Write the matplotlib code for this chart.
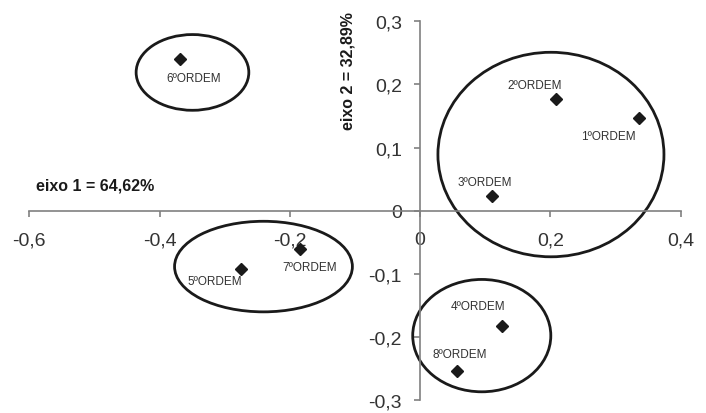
import matplotlib
matplotlib.use('Agg')
import matplotlib.pyplot as plt
from matplotlib.patches import Ellipse

plt.rcParams['font.family'] = ['Liberation Sans', 'DejaVu Sans']

# points (eixo 1, eixo 2)
labels = ['1ºORDEM', '2ºORDEM', '3ºORDEM', '4ºORDEM',
          '5ºORDEM', '6ºORDEM', '7ºORDEM', '8ºORDEM']
eixo1 = [0.336, 0.209, 0.110, 0.125, -0.275, -0.368, -0.185, 0.056]
eixo2 = [0.147, 0.177, 0.024, -0.182, -0.093, 0.240, -0.060, -0.254]

xticks = [-0.6, -0.4, -0.2, 0, 0.2, 0.4]
yticks = [-0.3, -0.2, -0.1, 0, 0.1, 0.2, 0.3]

# label offsets in pixels (dx, dy)
offsets = [(-31, -18), (-22, 14), (-7, 14), (-24, 20),
           (-26, -12), (13, -19), (10, -18), (3, 17)]

# groups drawn as ellipses: center x, center y, width, height
groups = [(-0.3495, 0.219, 0.173, 0.120),
          (0.2008, 0.0889, 0.347, 0.324),
          (-0.2405, -0.0886, 0.273, 0.1435),
          (0.0946, -0.198, 0.212, 0.178)]

fig = plt.figure(figsize=(7.06, 4.14), dpi=100)
ax = fig.add_axes([29.3 / 706, 13 / 414, 651.4 / 706, 378.7 / 414])
ax.set_xlim(-0.6, 0.4)
ax.set_ylim(-0.3, 0.3)

axcol = '#808080'
ax.spines['left'].set_position(('data', 0))
ax.spines['bottom'].set_position(('data', 0))
ax.spines['right'].set_visible(False)
ax.spines['top'].set_visible(False)
for s in ['left', 'bottom']:
    ax.spines[s].set_color(axcol)
    ax.spines[s].set_linewidth(1.2)

ax.set_xticks(xticks)
ax.set_yticks(yticks)
fmt = lambda v: ('%g' % v).replace('.', ',')
ax.set_xticklabels([fmt(v) for v in xticks])
ax.set_yticklabels([fmt(v) for v in yticks])
ax.tick_params(axis='x', direction='out', length=4, width=1.2, color=axcol,
               labelsize=14, labelcolor='#333333', pad=11)
ax.tick_params(axis='y', direction='out', length=4, width=1.2, color=axcol,
               labelsize=14, labelcolor='#333333', pad=9)

for cx, cy, w, h in groups:
    ax.add_patch(Ellipse((cx, cy), w, h, fill=False, edgecolor='#1a1a1a',
                         linewidth=2, clip_on=False, zorder=2))

ax.plot(eixo1, eixo2, 'D', color='#1a1a1a', markersize=6.5, linestyle='none',
        zorder=3, clip_on=False)

for lab, x, y, (dx, dy) in zip(labels, eixo1, eixo2, offsets):
    ax.annotate(lab, (x, y), xytext=(dx, dy), textcoords='offset pixels',
                ha='center', va='center', fontsize=8.5, color='#333333')

ax.text(-0.589, 0.041, 'eixo 1 = 64,62%', fontsize=11.5, fontweight='bold',
        ha='left', va='center', color='#1a1a1a')
ax.text(-0.111, 0.223, 'eixo 2 = 32,89%', fontsize=11.5, fontweight='bold',
        rotation=90, ha='center', va='center', color='#1a1a1a')

fig.savefig('out.png', dpi=100)
